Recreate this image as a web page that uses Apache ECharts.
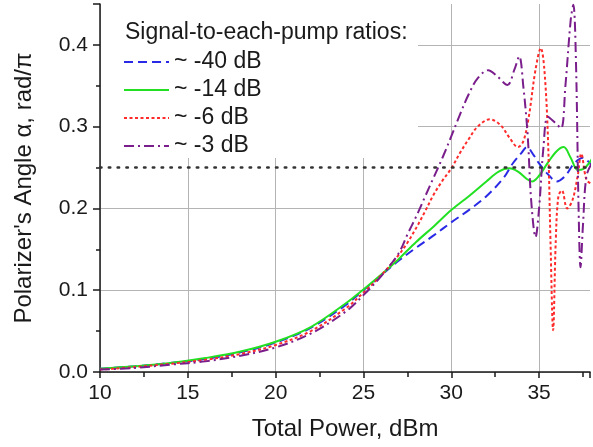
<!DOCTYPE html>
<html><head><meta charset="utf-8">
<script src="https://cdn.jsdelivr.net/npm/echarts@6/dist/echarts.min.js"></script>
<style>html,body{margin:0;padding:0;background:#fff}#c{width:593px;height:447px}</style>
</head><body><div id="c"></div>
<script>
// Total power, dBm (x) and polarizer angle, rad/pi (y)
var x40 = [10, 12, 14, 16, 18, 20, 22, 24, 25, 26, 27, 28, 29, 30, 31, 32, 33, 33.5, 34, 34.3, 34.7, 35, 35.5, 36, 36.5, 37, 37.5, 38];
var y40 = [0.004, 0.007, 0.011, 0.016, 0.024, 0.036, 0.054, 0.082, 0.100, 0.118, 0.136, 0.152, 0.167, 0.183, 0.198, 0.215, 0.238, 0.255, 0.268, 0.275, 0.265, 0.255, 0.242, 0.233, 0.240, 0.255, 0.262, 0.252];

var x14 = [10, 12, 14, 16, 18, 20, 22, 24, 25, 26, 27, 28, 29, 30, 31, 32, 32.7, 33.3, 33.8, 34.3, 34.6, 35, 35.5, 36, 36.4, 36.8, 37.2, 37.5, 38];
var y14 = [0.004, 0.007, 0.011, 0.017, 0.025, 0.037, 0.055, 0.084, 0.101, 0.119, 0.138, 0.159, 0.178, 0.198, 0.215, 0.233, 0.245, 0.249, 0.245, 0.236, 0.233, 0.240, 0.256, 0.270, 0.275, 0.262, 0.247, 0.248, 0.260];

var x6 = [10, 12, 14, 16, 18, 20, 22, 24, 25, 26, 27, 27.5, 28, 28.5, 29, 29.5, 30, 30.5, 31, 31.5, 32.2, 32.8, 33.3, 33.8, 34.1, 34.4, 34.8, 35.1, 35.3, 35.5, 35.65, 35.8, 35.95, 36.1, 36.3, 36.6, 36.9, 37.2, 37.4, 37.7, 38];
var y6 = [0.003, 0.006, 0.010, 0.015, 0.022, 0.033, 0.050, 0.078, 0.097, 0.118, 0.143, 0.158, 0.176, 0.196, 0.217, 0.234, 0.249, 0.268, 0.285, 0.300, 0.309, 0.302, 0.287, 0.275, 0.282, 0.310, 0.370, 0.396, 0.370, 0.290, 0.160, 0.051, 0.160, 0.215, 0.222, 0.200, 0.210, 0.240, 0.267, 0.235, 0.230];

var x3 = [10, 12, 14, 16, 18, 20, 22, 24, 25, 26, 27, 27.5, 28, 28.5, 29, 29.5, 30, 30.5, 31, 31.5, 32.1, 32.6, 33.2, 33.6, 33.87, 34.1, 34.35, 34.55, 34.8, 35.0, 35.25, 35.5, 35.9, 36.25, 36.5, 36.8, 36.95, 37.1, 37.25, 37.36, 37.5, 37.7, 38];
var y3 = [0.003, 0.005, 0.009, 0.013, 0.020, 0.030, 0.047, 0.074, 0.094, 0.117, 0.145, 0.168, 0.190, 0.214, 0.238, 0.262, 0.288, 0.315, 0.340, 0.359, 0.369, 0.362, 0.351, 0.370, 0.386, 0.350, 0.290, 0.210, 0.165, 0.200, 0.275, 0.312, 0.305, 0.298, 0.350, 0.430, 0.449, 0.380, 0.200, 0.128, 0.180, 0.240, 0.255];

var seriesNames = ['~ -40 dB', '~ -14 dB', '~ -6 dB', '~ -3 dB'];
var xTicks = [10, 15, 20, 25, 30, 35];
var yTicks = [0.0, 0.1, 0.2, 0.3, 0.4];
var refLevel = 0.25;

function pairs(xs, ys) { return xs.map(function (v, i) { return [v, ys[i]]; }); }

var FONT = 'Liberation Sans, Arial, sans-serif';
var chart = echarts.init(document.getElementById('c'), null, { renderer: 'canvas' });

function mk(name, xs, ys, color, dash, extra) {
  var s = {
    name: name, type: 'line', data: pairs(xs, ys), symbol: 'none', smooth: 0.35,
    clip: true, z: 2,
    lineStyle: { color: color, width: 2, type: dash },
    itemStyle: { color: color }
  };
  if (extra) for (var k in extra) s[k] = extra[k];
  return s;
}

chart.setOption({
  animation: false,
  backgroundColor: '#fff',
  textStyle: { fontFamily: FONT },
  grid: { left: 100, right: 0, top: 4, bottom: 75, containLabel: false },
  title: {
    text: 'Signal-to-each-pump ratios:', left: 125, top: 21, padding: 0,
    textStyle: { fontFamily: FONT, fontSize: 23, fontWeight: 'normal', color: '#1a1a1a' }
  },
  legend: {
    orient: 'vertical', left: 123, top: 50, padding: 0,
    itemWidth: 45, itemHeight: 14, itemGap: 4,
    itemStyle: { opacity: 0 },
    textStyle: { fontFamily: FONT, fontSize: 23, lineHeight: 24, color: '#1a1a1a' },
    data: seriesNames
  },
  graphic: [{
    type: 'rect', left: 101, top: 0, z: 1,
    shape: { width: 317, height: 158 }, style: { fill: '#ffffff' }, silent: true
  }],
  xAxis: {
    type: 'value', min: 10, max: 37.9, interval: 5,
    name: 'Total Power, dBm', nameLocation: 'middle', nameGap: 45,
    nameTextStyle: { fontFamily: FONT, fontSize: 24, color: '#1a1a1a' },
    axisLine: { show: true, lineStyle: { color: '#1a1a1a', width: 1.5 } },
    axisTick: { show: true, inside: false, length: 6, lineStyle: { color: '#1a1a1a', width: 1.5 } },
    minorTick: { show: true, splitNumber: 2, length: 5, lineStyle: { color: '#1a1a1a', width: 1.5 } },
    axisLabel: {
      fontFamily: FONT, fontSize: 21, color: '#1a1a1a', margin: 11,
      formatter: function (v) { return xTicks.indexOf(Math.round(v * 100) / 100) >= 0 ? String(v) : ''; }
    },
    splitLine: { show: true, lineStyle: { color: ['#b4b4b4', '#b4b4b4', '#b4b4b4', '#b4b4b4', '#b4b4b4', '#b4b4b4', 'rgba(0,0,0,0)'], width: 1 } }
  },
  yAxis: {
    type: 'value', min: 0, max: 0.45, interval: 0.1,
    name: "Polarizer's Angle α, rad/π", nameLocation: 'middle', nameGap: 64, nameRotate: 90,
    nameTextStyle: { fontFamily: FONT, fontSize: 24, color: '#1a1a1a' },
    axisLine: { show: true, lineStyle: { color: '#1a1a1a', width: 1.5 } },
    axisTick: { show: true, inside: false, length: 7, lineStyle: { color: '#1a1a1a', width: 1.5 } },
    minorTick: { show: true, splitNumber: 2, length: 4, lineStyle: { color: '#1a1a1a', width: 1.5 } },
    axisLabel: {
      fontFamily: FONT, fontSize: 21, color: '#1a1a1a', margin: 12,
      formatter: function (v) {
        var r = Math.round(v * 10) / 10;
        return (Math.abs(v - r) < 1e-6 && yTicks.indexOf(r) >= 0) ? r.toFixed(1) : '';
      }
    },
    splitLine: { show: true, lineStyle: { color: ['#b4b4b4', '#b4b4b4', '#b4b4b4', '#b4b4b4', '#b4b4b4', 'rgba(0,0,0,0)'], width: 1 } }
  },
  series: [
    mk(seriesNames[0], x40, y40, '#2a2ae6', [9, 5], {
      markLine: {
        silent: true, symbol: 'none', label: { show: false },
        lineStyle: { color: '#333', width: 2.5, type: [1.5, 7.3], cap: 'round' },
        data: [{ yAxis: refLevel }]
      }
    }),
    mk(seriesNames[1], x14, y14, '#22e022', 'solid'),
    mk(seriesNames[2], x6, y6, '#ff2b2b', [3, 2.5]),
    mk(seriesNames[3], x3, y3, '#7a1e8c', [10, 4, 2, 4])
  ]
});
</script>
</body></html>
